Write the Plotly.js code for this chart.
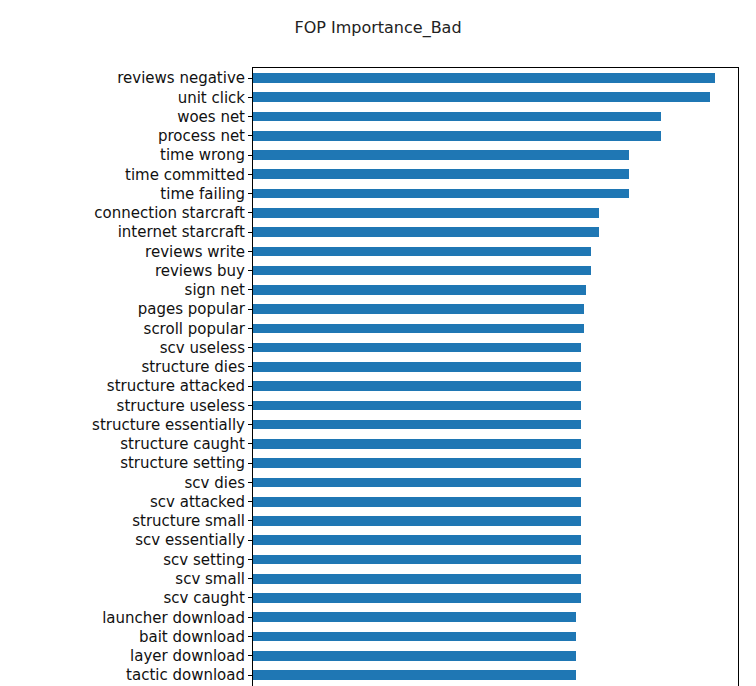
<!DOCTYPE html>
<html>
<head>
<script src="https://cdn.plot.ly/plotly-3.0.1.min.js"></script>
<style>body{margin:0;background:#fff}</style>
</head>
<body>
<div id="chart" style="width:756px;height:686px"></div>
<script>
const terms = ['reviews negative','unit click','woes net','process net','time wrong','time committed','time failing',
  'connection starcraft','internet starcraft','reviews write','reviews buy','sign net','pages popular','scroll popular',
  'scv useless','structure dies','structure attacked','structure useless','structure essentially','structure caught',
  'structure setting','scv dies','scv attacked','structure small','scv essentially','scv setting','scv small','scv caught',
  'launcher download','bait download','layer download','tactic download'];
const importance = [0.0461,0.0456,0.0407,0.0407,0.0375,0.0375,0.0375,
  0.0345,0.0345,0.0337,0.0337,0.0332,0.0330,0.0330,
  0.0327,0.0327,0.0327,0.0327,0.0327,0.0327,
  0.0327,0.0327,0.0327,0.0327,0.0327,0.0327,0.0327,0.0327,
  0.0322,0.0322,0.0322,0.0322];

Plotly.newPlot('chart', [{
  type: 'bar',
  orientation: 'h',
  x: importance,
  y: terms,
  width: 0.5,
  marker: { color: '#1f77b4' }
}], {
  title: { text: 'FOP Importance_Bad', x: 0.5, y: 0.968, font: { size: 16, color: '#222' } },
  font: { family: 'DejaVu Sans', color: '#222' },
  margin: { l: 253, r: 18, t: 68, b: 0 },
  paper_bgcolor: '#fff',
  plot_bgcolor: '#fff',
  showlegend: false,
  bargap: 0,
  xaxis: {
    side: 'top', range: [0, 0.0461 * 1.05], showline: true, linecolor: '#000', linewidth: 1,
    showgrid: false, zeroline: false, showticklabels: false, ticks: ''
  },
  yaxis: {
    type: 'category', range: [terms.length - 1 + 0.57, -0.52],
    showline: true, mirror: true, linecolor: '#000', linewidth: 1,
    ticks: 'outside', ticklen: 4, tickcolor: '#000', showgrid: false,
    tickfont: { size: 15, color: '#111' }
  }
}, { displayModeBar: false });
</script>
</body>
</html>
